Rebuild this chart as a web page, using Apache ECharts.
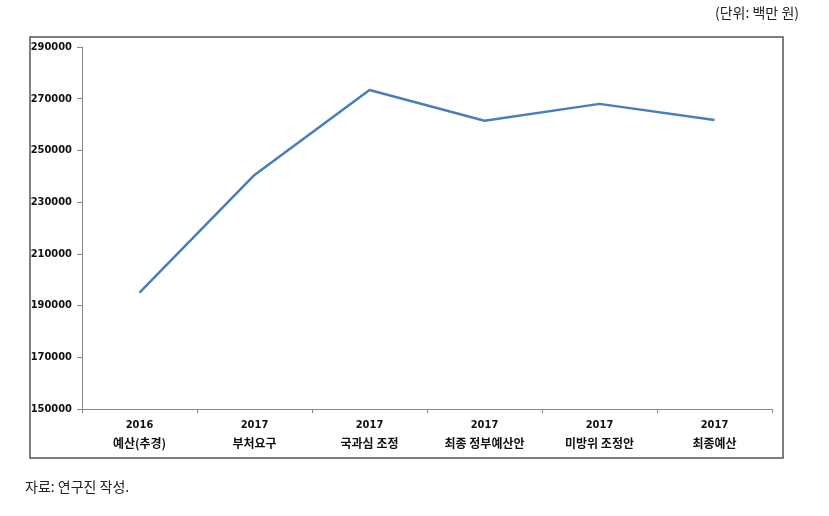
<!DOCTYPE html>
<html><head><meta charset="utf-8">
<script src="https://cdn.jsdelivr.net/npm/echarts@6/dist/echarts.min.js"></script>
<style>html,body{margin:0;padding:0;background:#fff}#c{width:829px;height:516px}</style>
</head><body><div id="c"></div>
<script>
var years = ['2016','2017','2017','2017','2017','2017'];
var names = ['예산(추경)','부처요구','국과심 조정','최종 정부예산안','미방위 조정안','최종예산'];
var values = [195000, 240500, 273400, 261500, 268000, 261800];
var yMin = 150000, yMax = 290000, yStep = 20000;
var unitText = '(단위: 백만 원)';
var sourceText = '자료: 연구진 작성.';

var categories = years.map(function(y,i){return y+'\n'+names[i];});
var chart = echarts.init(document.getElementById('c'), null, {renderer:'canvas'});
chart.setOption({
  animation:false,
  backgroundColor:'#fff',
  graphic:[
    {type:'rect', shape:{x:30,y:37,width:753,height:421}, style:{fill:'none', stroke:'#555', lineWidth:1.5}, z:-1},
    {type:'text', right:30, top:6, style:{text:unitText, fontFamily:'"Noto Sans CJK KR"', fontSize:14, fill:'#222'}},
    {type:'text', left:25, top:480, style:{text:sourceText, fontFamily:'"Noto Sans CJK KR"', fontSize:14, fill:'#222'}}
  ],
  grid:{left:82, top:47, right:57, bottom:107, containLabel:false},
  xAxis:{
    type:'category', data:categories, boundaryGap:true,
    axisLine:{lineStyle:{color:'#888', width:1}},
    axisTick:{show:true, length:4, lineStyle:{color:'#888'}},
    axisLabel:{
      interval:0, margin:7,
      formatter:function(v){var p=v.split('\n');return '{y|'+p[0]+'}\n{n|'+p[1]+'}';},
      rich:{
        y:{fontFamily:'"DejaVu Sans Condensed", "Liberation Sans"', fontWeight:'bold', fontSize:11, color:'#111', lineHeight:18},
        n:{fontFamily:'"Noto Sans CJK KR"', fontWeight:'bold', fontSize:12, color:'#111', lineHeight:18}
      }
    }
  },
  yAxis:{
    type:'value', min:yMin, max:yMax, interval:yStep,
    axisLine:{show:true, lineStyle:{color:'#888', width:1}},
    axisTick:{show:true, length:5, lineStyle:{color:'#888'}},
    splitLine:{show:false},
    axisLabel:{margin:10, color:'#111', fontFamily:'"DejaVu Sans Condensed", "Liberation Sans"', fontWeight:'bold', fontSize:11,
      formatter:function(v){return String(v);}}
  },
  series:[{
    type:'line', data:values, symbol:'none',
    lineStyle:{color:'#4a7ebb', width:2.5}
  }]
});
</script></body></html>
